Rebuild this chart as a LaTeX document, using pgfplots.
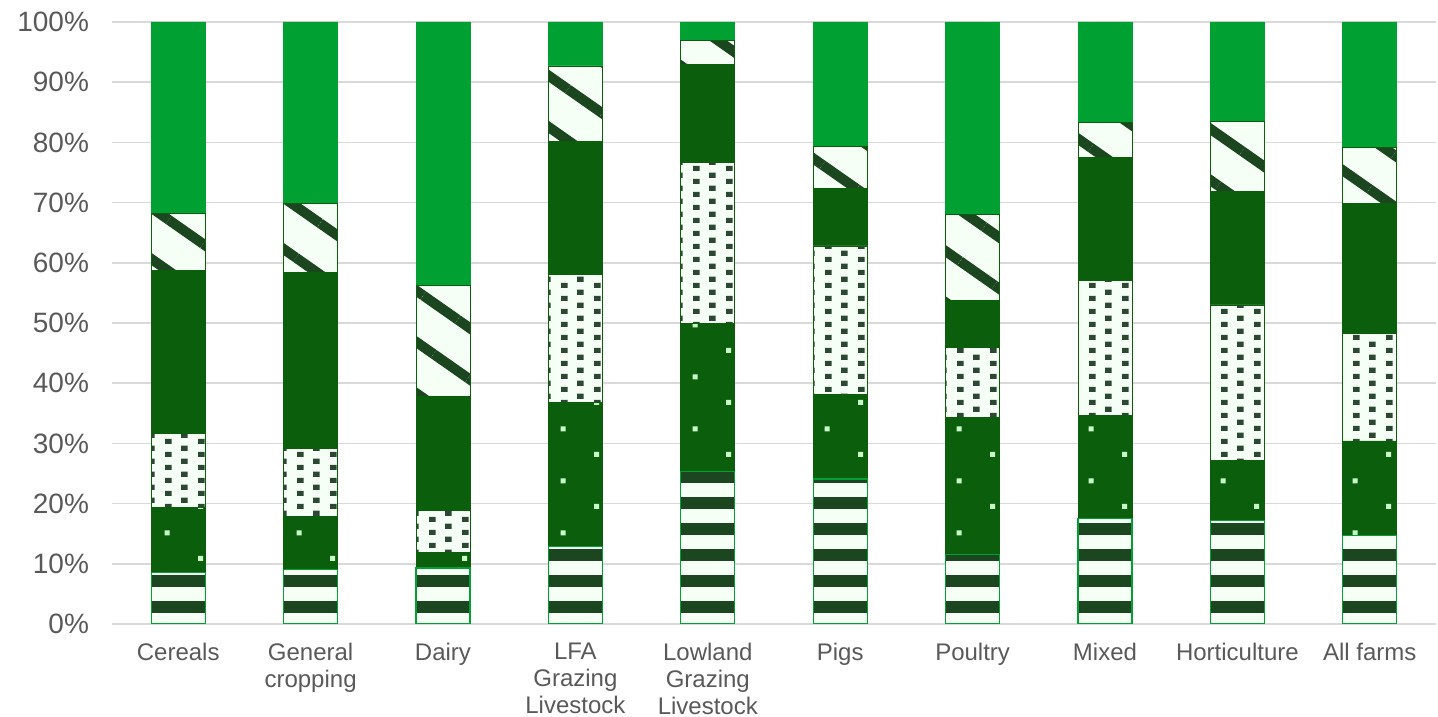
\documentclass[border=0pt]{standalone}
\usepackage{fontspec}
\setmainfont{Liberation Sans}
\usepackage{pgfplots}
\pgfplotsset{compat=1.18}
\usepackage{pgfplotstable}
\usetikzlibrary{patterns,patterns.meta}

\definecolor{brightgreen}{RGB}{0,160,50}
\definecolor{darkgreen}{RGB}{11,94,11}
\definecolor{stripegreen}{RGB}{28,70,32}
\definecolor{dotgreen}{RGB}{45,72,50}
\definecolor{paleback}{RGB}{245,255,245}
\definecolor{speck}{RGB}{200,255,200}
\definecolor{labelgray}{RGB}{89,89,89}
\definecolor{gridgray}{RGB}{217,217,217}

% wide horizontal bands; the tile overlaps its neighbours so no seams show
\pgfdeclarepatternformonly{hbands}{\pgfqpoint{-2pt}{0pt}}{\pgfqpoint{22pt}{13pt}}{\pgfqpoint{20pt}{13pt}}{%
  \pgfpathrectangle{\pgfqpoint{-2pt}{0pt}}{\pgfqpoint{24pt}{6pt}}%
  \pgfusepath{fill}}
% staggered small squares (white segment)
\pgfdeclarepatternformonly{checkdots}{\pgfpointorigin}{\pgfqpoint{16.5pt}{6.5pt}}{\pgfqpoint{16.5pt}{6.5pt}}{%
  \pgfpathrectangle{\pgfqpoint{0pt}{0pt}}{\pgfqpoint{3.4pt}{2.8pt}}%
  \pgfpathrectangle{\pgfqpoint{8.25pt}{3.25pt}}{\pgfqpoint{3.4pt}{2.8pt}}%
  \pgfusepath{fill}}
% sparse light specks (dark segment)
\pgfdeclarepatternformonly{specks}{\pgfpointorigin}{\pgfqpoint{33pt}{26pt}}{\pgfqpoint{33pt}{26pt}}{%
  \pgfpathrectangle{\pgfqpoint{0pt}{0pt}}{\pgfqpoint{2.6pt}{2.6pt}}%
  \pgfpathrectangle{\pgfqpoint{16.5pt}{13pt}}{\pgfqpoint{2.6pt}{2.6pt}}%
  \pgfusepath{fill}}

\pgfplotstableread{
x  s1   s2   s3   s4   s5   s6
0  8.5  10.9 12.2 27.1 9.5  31.8
1  9.0  8.9  11.2 29.3 11.4 30.2
2  9.3  2.6  6.9  19.0 18.5 43.7
3  12.9 23.9 21.2 22.1 12.6 7.3
4  25.3 24.6 26.8 16.3 3.9  3.1
5  24.1 14.1 24.6 9.5  7.0  20.7
6  11.5 22.8 11.7 7.8  14.3 31.9
7  17.5 17.1 22.4 20.5 5.8  16.7
8  17.2 10.0 25.8 18.8 11.7 16.5
9  14.7 15.7 17.9 21.5 9.4  20.8
}\farms

\begin{document}
\begin{tikzpicture}
\begin{axis}[
    name=ax,
    width=662pt, height=301pt, scale only axis,
    ybar stacked, bar width=27pt,
    xmin=-0.5, xmax=9.5, ymin=0, ymax=100,
    xtick=data,
    xticklabels={Cereals,General\\cropping,Dairy,LFA\\Grazing\\Livestock,Lowland\\Grazing\\Livestock,Pigs,Poultry,Mixed,Horticulture,All farms},
    ytick={0,10,...,100},
    yticklabels={0\%,10\%,20\%,30\%,40\%,50\%,60\%,70\%,80\%,90\%,100\%},
    xticklabel style={align=center, font=\fontsize{12}{13.5}\selectfont, text=labelgray, yshift=-6pt},
    yticklabel style={font=\fontsize{14}{16}\selectfont, text=labelgray, xshift=-8pt},
    major tick length=0pt,
    axis line style={draw=none},
    ymajorgrids, grid style={gridgray, line width=0.75pt},
]
\addplot[fill=paleback, draw=brightgreen, line width=0.6pt,
  postaction={pattern=hbands, pattern color=stripegreen}]
  table[x=x,y=s1]{\farms};
\addplot[fill=darkgreen, draw=darkgreen,
  postaction={pattern=specks, pattern color=speck}]
  table[x=x,y=s2]{\farms};
\addplot[fill=paleback, draw=darkgreen,
  postaction={pattern=checkdots, pattern color=dotgreen}]
  table[x=x,y=s3]{\farms};
\addplot[fill=darkgreen, draw=darkgreen]
  table[x=x,y=s4]{\farms};
\addplot[fill=paleback, draw=darkgreen,
  postaction={pattern={Lines[angle=-35,distance=21pt,line width=5pt]}, pattern color=stripegreen}]
  table[x=x,y=s5]{\farms};
\addplot[fill=brightgreen, draw=brightgreen]
  table[x=x,y=s6]{\farms};
\end{axis}
\pgfresetboundingbox
\path (ax.south west) ++(-56pt,-46.5pt) coordinate (bbA);
\path (ax.north east) ++(1pt,11pt) coordinate (bbB);
\path (bbA) rectangle (bbB);
\end{tikzpicture}
\end{document}
